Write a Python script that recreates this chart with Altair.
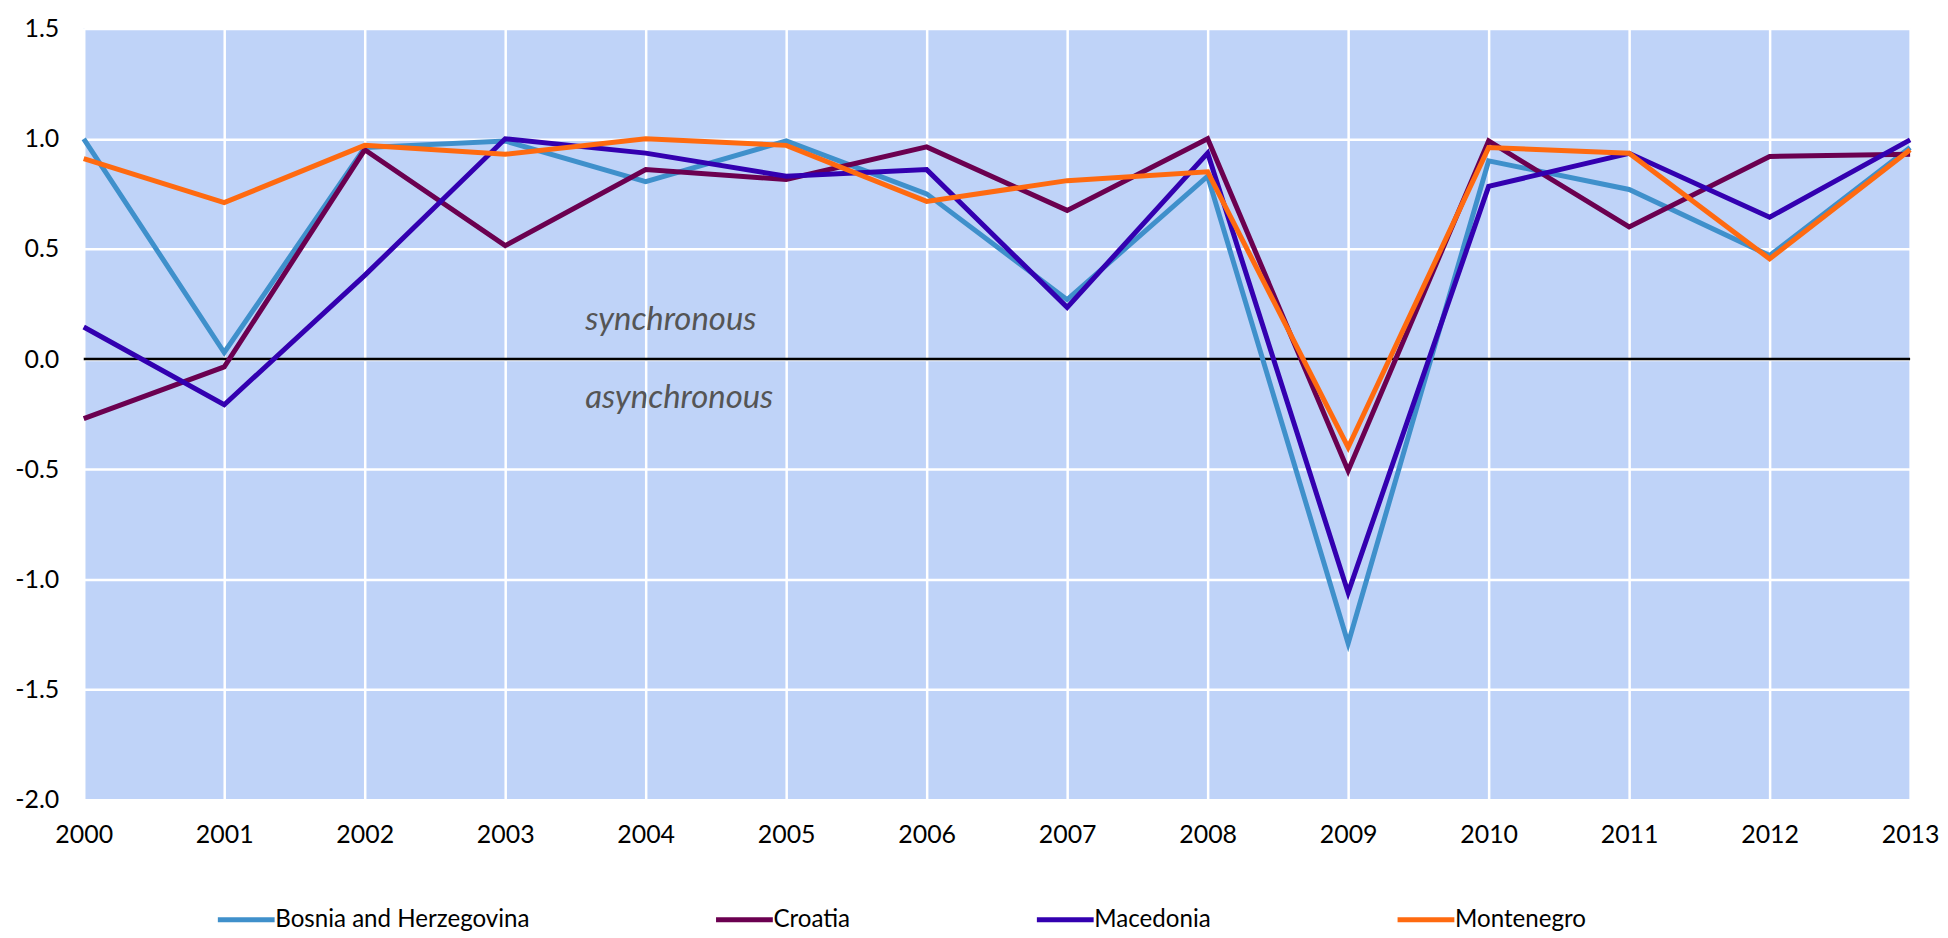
import altair as alt
import pandas as pd

years = list(range(2000, 2014))
bosnia = [1.00, 0.03, 0.96, 0.99, 0.805, 0.99, 0.75, 0.27, 0.83, -1.29, 0.90, 0.77, 0.47, 0.96]
croatia = [-0.27, -0.035, 0.95, 0.515, 0.86, 0.815, 0.963, 0.675, 1.00, -0.506, 0.99, 0.60, 0.92, 0.93]
macedonia = [0.146, -0.207, 0.38, 1.00, 0.935, 0.83, 0.86, 0.235, 0.935, -1.06, 0.784, 0.934, 0.644, 0.995]
montenegro = [0.91, 0.71, 0.97, 0.93, 1.00, 0.97, 0.716, 0.81, 0.85, -0.40, 0.96, 0.934, 0.455, 0.95]

series_names = ["Bosnia and Herzegovina", "Croatia", "Macedonia", "Montenegro"]
series_colors = ["#3F90CB", "#6B0050", "#3300B0", "#FF6A10"]

y_ticks = [-2.0, -1.5, -1.0, -0.5, 0.0, 0.5, 1.0, 1.5]

ann_text = ["synchronous", "asynchronous"]
ann_x = [2003.57, 2003.57]
ann_y = [0.13, -0.22]

rows = []
for name, vals in zip(series_names, [bosnia, croatia, macedonia, montenegro]):
    for yr, v in zip(years, vals):
        rows.append({"year": yr, "value": v, "country": name})
df = pd.DataFrame(rows)

ann_df = pd.DataFrame({"text": ann_text, "x": ann_x, "y": ann_y})
zero_df = pd.DataFrame({"y": [0.0]})

FONT = "Lato"

xscale = alt.Scale(domain=[2000, 2013], nice=False, zero=False)
yscale = alt.Scale(domain=[-2.0, 1.5], nice=False, zero=False)

lines = alt.Chart(df).mark_line(strokeWidth=5, strokeJoin="miter").encode(
    x=alt.X("year:Q", scale=xscale,
            axis=alt.Axis(values=years, format="d", title=None, grid=True,
                          gridColor="white", gridWidth=2.5, domain=False, ticks=False,
                          labelFlush=False,
                          labelFont=FONT, labelFontSize=25, labelColor="black",
                          labelPadding=23)),
    y=alt.Y("value:Q", scale=yscale,
            axis=alt.Axis(values=y_ticks, format=".1f", title=None, grid=True,
                          gridColor="white", gridWidth=2.5, domain=False, ticks=False,
                          labelExpr="replace(datum.label, '\u2212', '-')",
                          labelFont=FONT, labelFontSize=25, labelColor="black",
                          labelPadding=25)),
    color=alt.Color("country:N",
                    scale=alt.Scale(domain=series_names, range=series_colors),
                    legend=alt.Legend(title=None, orient="none", direction="horizontal",
                                      legendX=151, legendY=882,
                                      symbolType="M-4,0L4,0", symbolSize=203,
                                      symbolStrokeWidth=5, labelOffset=17,
                                      columnPadding=176,
                                      labelFont=FONT, labelFontSize=24.2,
                                      labelColor="black", labelLimit=400)),
    order=alt.Order("year:Q"),
)

zero = alt.Chart(zero_df).mark_rule(color="black", strokeWidth=2.5).encode(
    y=alt.Y("y:Q", scale=yscale)
)

ann = alt.Chart(ann_df).mark_text(
    font=FONT, fontSize=33, fontStyle="italic", color="#555555",
    align="left", baseline="alphabetic"
).encode(
    x=alt.X("x:Q", scale=xscale),
    y=alt.Y("y:Q", scale=yscale),
    text="text:N",
)

chart = alt.layer(zero, lines, ann).properties(
    width=1833, height=774,
    padding={"left": 6, "top": 7, "right": 0, "bottom": 0},
    background="white",
).configure_view(fill="#BFD3F8", strokeWidth=0)

chart.save("out.html", embed_options={"renderer": "svg", "actions": False})
